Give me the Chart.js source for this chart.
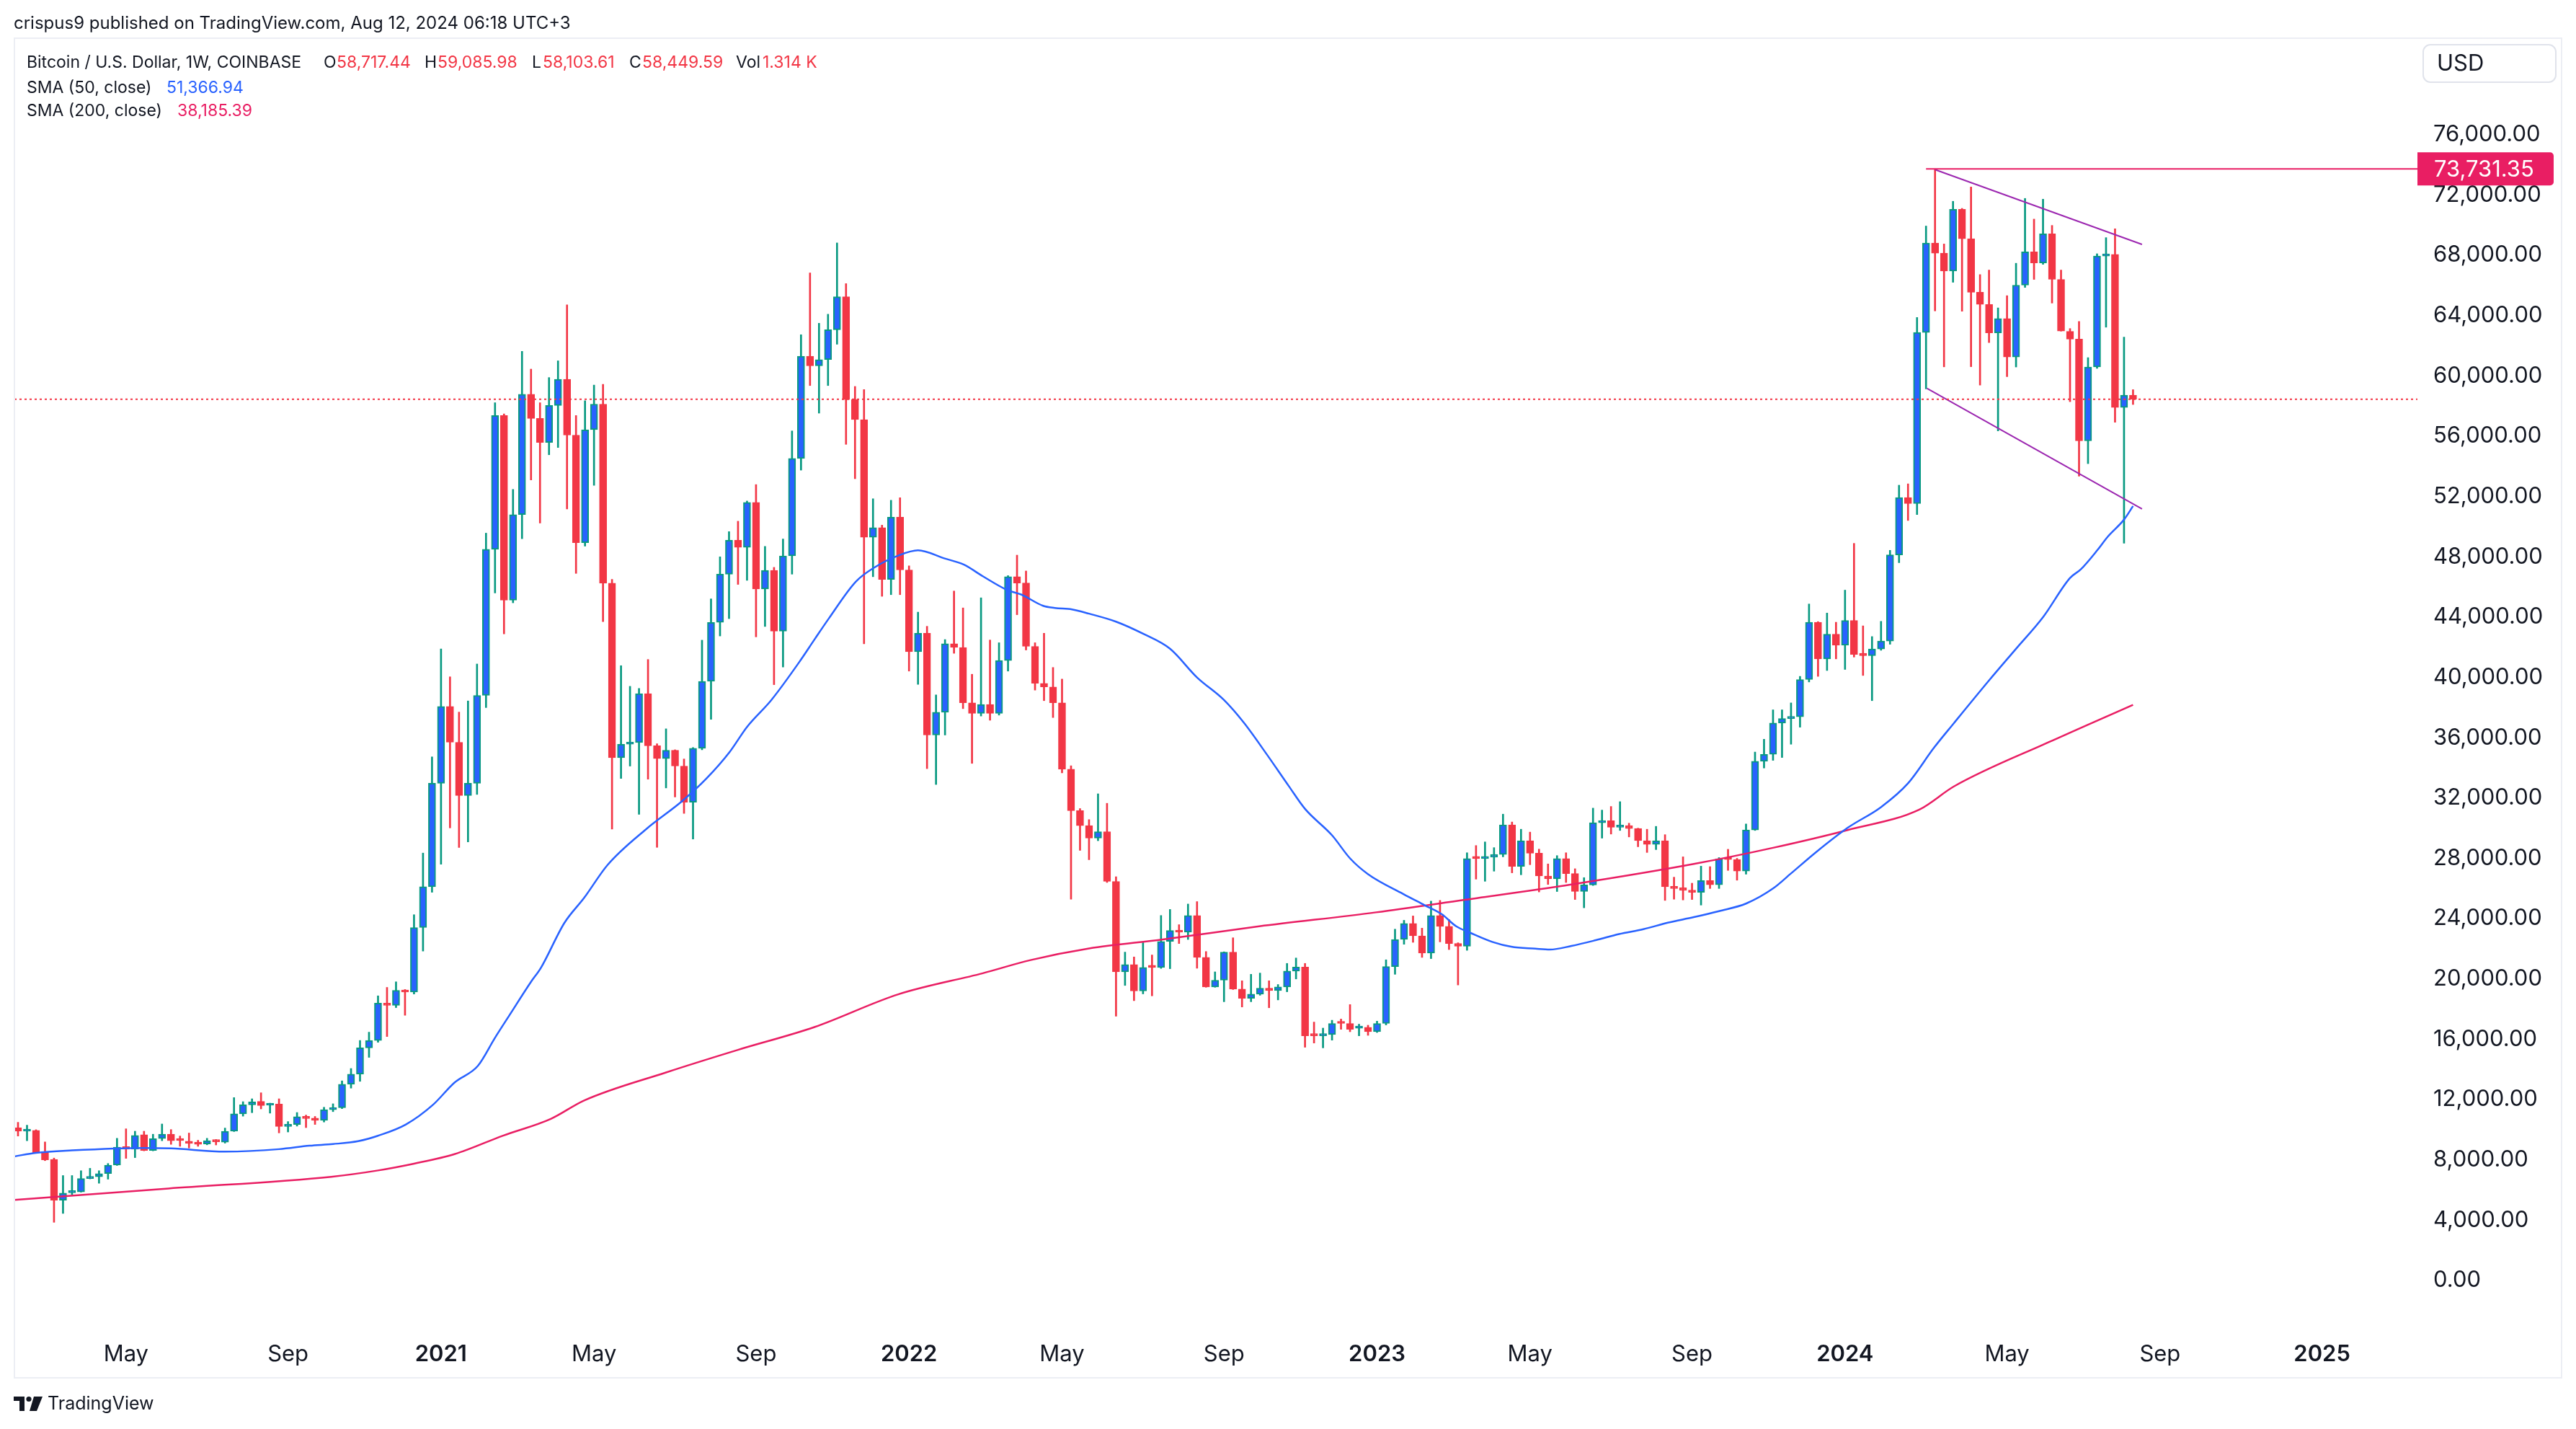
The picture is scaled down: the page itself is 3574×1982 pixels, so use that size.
<!DOCTYPE html>
<html>
<head>
<meta charset="utf-8">
<title>Bitcoin / U.S. Dollar, 1W</title>
<script src="https://cdn.jsdelivr.net/npm/chart.js@4.4.1/dist/chart.umd.min.js"></script>
<style>
  html, body { margin: 0; padding: 0; background: #ffffff; }
  #wrap { width: 3574px; height: 1982px; position: relative; }
</style>
</head>
<body>
<div id="wrap"><canvas id="btcChart"></canvas></div>
<script>
// weekly candles, index 0 = week of 10 Feb 2020, index 235 = week of 12 Aug 2024
const opens = [
  10140, 9900, 9960, 8520, 8030, 5330, 5820, 5880, 6760, 6880,
  7090, 7650, 8880, 8710, 9670, 8630, 9410, 9700, 9330, 9240,
  9080, 9050, 9320, 9180, 9900, 11050, 11650, 11880, 11620, 11700,
  10220, 10350, 10860, 10740, 10620, 11330, 11460, 13020, 13690, 15430,
  15920, 18400, 18250, 19250, 19130, 23410, 26120, 32980, 38070, 35700,
  32170, 32980, 38810, 48500, 57370, 45120, 50800, 58780, 57180, 55590,
  58040, 59780, 56070, 48940, 56430, 58130, 46250, 34670, 35570, 35680,
  38920, 35470, 34620, 35170, 34120, 31720, 35300, 39740, 43650, 46850,
  49100, 48630, 51610, 45870, 47100, 43070, 48060, 54520, 61300, 60670,
  61080, 63060, 65250, 58430, 57100, 49300, 49930, 46500, 50630, 47130,
  41710, 42930, 36180, 37690, 42230, 41990, 38320, 37620, 38210, 37620,
  41120, 46680, 46260, 42060, 39610, 39370, 38320, 33910, 31160, 30170,
  29340, 29770, 26470, 20470, 20950, 19200, 20820, 20760, 22490, 23210,
  23100, 24210, 21430, 19470, 19920, 21780, 19330, 18720, 18990, 19390,
  19230, 19470, 20520, 20790, 16290, 16230, 16310, 17130, 17050, 16730,
  16800, 16500, 17050, 20820, 22620, 23680, 22860, 21710, 24210, 23490,
  22350, 22170, 28020, 27980, 28070, 28260, 30220, 27470, 29170, 28340,
  26830, 26640, 27980, 26990, 25800, 26240, 30360, 30490, 30060, 30170,
  29980, 29170, 28930, 29170, 26120, 26050, 25880, 25750, 26530, 26250,
  27970, 27920, 27150, 29880, 34440, 34900, 36970, 37270, 37390, 39860,
  43660, 41230, 42870, 42140, 43780, 41600, 41440, 41890, 42410, 48130,
  51930, 51530, 62880, 68810, 68140, 66950, 71050, 69100, 65550, 64740,
  62850, 63800, 61250, 66020, 68230, 67490, 69420, 66400, 62950, 62440,
  55690, 60590, 67950, 68060, 57910, 58717.44
];
const highs = [
  10490, 10300, 10000, 9190, 8120, 6960, 6960, 7280, 7440, 7280,
  7760, 9430, 10060, 9900, 9900, 9700, 10380, 10010, 9580, 9780,
  9300, 9430, 9350, 10110, 12130, 11860, 12050, 12450, 11760, 12050,
  10540, 11140, 10970, 10880, 11490, 11720, 13240, 14060, 15920, 16470,
  18880, 19440, 19810, 19300, 24260, 28350, 34730, 41890, 40040, 37700,
  38440, 40890, 49570, 58220, 57480, 52470, 61630, 60450, 58220, 59890,
  61000, 64710, 57370, 58350, 59390, 59440, 46500, 40780, 39410, 39270,
  41190, 35600, 36590, 35200, 34590, 35350, 42470, 45210, 48000, 49670,
  50360, 51700, 52790, 48690, 47300, 49180, 56350, 62730, 66830, 63490,
  64090, 68820, 66120, 59300, 59090, 51850, 50100, 51750, 51920, 47400,
  44330, 43390, 38840, 42510, 45730, 44610, 40210, 45280, 42480, 42300,
  46750, 48110, 47060, 42300, 42930, 40660, 39890, 34140, 31300, 30570,
  32280, 31650, 26780, 21780, 21460, 22410, 21590, 24210, 24610, 23600,
  24970, 25130, 21820, 20470, 21800, 22730, 19880, 20310, 20390, 19880,
  19630, 21030, 21390, 21030, 17140, 16740, 17260, 17340, 18300, 17000,
  16930, 17200, 21270, 23300, 23890, 24180, 23370, 25160, 25210, 23940,
  22400, 28370, 28850, 29090, 28710, 30930, 30410, 29930, 29740, 28610,
  27630, 28180, 28370, 27310, 26720, 31330, 31200, 31440, 31760, 30330,
  30000, 29930, 30120, 29570, 26750, 28100, 26350, 27480, 27450, 28050,
  28600, 28000, 30280, 35050, 35900, 37850, 37850, 38310, 40070, 44870,
  43700, 44270, 43660, 45790, 48890, 43420, 42710, 43720, 48430, 52750,
  52840, 63880, 69940, 73731.35, 68750, 71580, 71110, 72530, 66720, 67020,
  64510, 65320, 67470, 71770, 70400, 71720, 69980, 67020, 63140, 63610,
  61210, 68100, 69170, 69760, 62570, 59085.98
];
const lows = [
  9580, 9270, 8440, 7950, 3860, 4450, 5690, 5860, 6740, 6450,
  6720, 7630, 8100, 8150, 8600, 8600, 9270, 9030, 8900, 8790,
  8900, 9000, 8990, 9110, 9880, 10900, 11130, 11380, 11100, 9790,
  9850, 10240, 10140, 10350, 10510, 11200, 11400, 12760, 13210, 14800,
  15800, 16180, 18100, 17590, 19000, 21850, 25750, 27610, 30020, 28720,
  29090, 32240, 38000, 45600, 42890, 44950, 49200, 53100, 50240, 54770,
  55250, 51170, 46900, 48710, 52740, 43700, 29940, 33300, 34120, 30920,
  33250, 28730, 32670, 32070, 30980, 29280, 35200, 37220, 42750, 43900,
  46170, 46440, 42690, 43380, 39520, 40690, 46850, 53750, 59360, 57530,
  59360, 62100, 55460, 53180, 42230, 46680, 45380, 45490, 45490, 40420,
  39540, 33950, 32900, 36180, 41600, 37930, 34300, 37440, 37160, 37500,
  40420, 44160, 41820, 39160, 38460, 37340, 33670, 25290, 28530, 27910,
  29170, 26400, 17530, 19570, 18560, 19010, 18880, 20700, 20680, 22350,
  22620, 20710, 19450, 19450, 18490, 19300, 18140, 18490, 18920, 18090,
  18610, 19150, 20000, 15470, 15750, 15430, 15940, 16660, 16500, 16230,
  16260, 16450, 16950, 20310, 22300, 22430, 21430, 21350, 22460, 21950,
  19600, 21900, 26620, 26480, 27150, 28100, 27040, 26910, 27580, 25770,
  26270, 25800, 26400, 25270, 24720, 26200, 29340, 29610, 29850, 29420,
  28770, 28390, 28580, 25210, 25290, 25240, 25270, 24900, 26000, 26000,
  27200, 26550, 26950, 29850, 33990, 34500, 34690, 35570, 36700, 39700,
  40070, 40460, 41230, 40530, 41350, 40130, 38460, 41800, 42200, 47610,
  50410, 50800, 59140, 64310, 60600, 66210, 64290, 60610, 59390, 62210,
  56350, 59950, 60590, 65870, 66400, 67400, 64830, 62970, 58290, 53350,
  54180, 60500, 63230, 56930, 48900, 58103.61
];
const closes = [
  9900, 9960, 8470, 8000, 5330, 5800, 5900, 6760, 6880, 7090,
  7650, 8840, 8710, 9620, 8630, 9410, 9700, 9270, 9280, 9090,
  9030, 9270, 9200, 9900, 11050, 11650, 11840, 11600, 11700, 10220,
  10350, 10860, 10740, 10620, 11330, 11460, 13020, 13690, 15430, 15920,
  18400, 18250, 19250, 19130, 23410, 26120, 32980, 38070, 35700, 32170,
  32980, 38810, 48500, 57370, 45120, 50800, 58780, 57180, 55590, 58040,
  59780, 56070, 48940, 56430, 58130, 46250, 34670, 35570, 35680, 38920,
  35470, 34620, 35170, 34120, 31720, 35300, 39740, 43650, 46850, 49100,
  48630, 51610, 45870, 47100, 43070, 48060, 54520, 61300, 60670, 61080,
  63060, 65250, 58430, 57100, 49300, 49930, 46500, 50630, 47130, 41710,
  42930, 36180, 37690, 42230, 41990, 38320, 37620, 38210, 37620, 41120,
  46680, 46260, 42060, 39610, 39370, 38320, 33910, 31160, 30170, 29340,
  29770, 26470, 20470, 20950, 19200, 20760, 20760, 22490, 23210, 23100,
  24210, 21430, 19470, 19920, 21780, 19330, 18720, 18990, 19390, 19230,
  19470, 20520, 20790, 16230, 16230, 16310, 17050, 17050, 16660, 16800,
  16500, 17050, 20820, 22620, 23680, 22860, 21710, 24210, 23490, 22350,
  22170, 27980, 27980, 28070, 28260, 30220, 27470, 29170, 28340, 26830,
  26640, 27980, 26990, 25800, 26240, 30360, 30490, 30060, 30170, 29980,
  29170, 28930, 29170, 26120, 26000, 25880, 25750, 26530, 26250, 27970,
  27920, 27150, 29880, 34440, 34900, 36970, 37270, 37390, 39860, 43660,
  41230, 42870, 42140, 43780, 41530, 41440, 41890, 42410, 48130, 51930,
  51530, 62880, 68810, 68140, 66950, 71050, 69100, 65550, 64740, 62850,
  63800, 61250, 66020, 68230, 67490, 69420, 66400, 62970, 62440, 55690,
  60590, 67950, 68060, 57910, 58717.44, 58449.59
];

// moving averages (week index, price)
const sma50Weeks = [-0.4, 2, 6, 14, 17, 23, 29, 32.4, 35, 37.8, 40, 43.1, 46.1, 48.5, 51.1, 53, 54.6, 57, 58.1, 60.7,
  62.9, 65.5, 69.8, 73.8, 76.5, 79.1, 81, 83.7, 86.9, 88.5, 90.1, 93.1, 95.2, 97.8, 100, 102.9, 105.1, 107.2, 109.9, 111.5,
  113.9, 115.2, 117.1, 119, 122, 125, 128, 131, 134, 136.2, 138.7, 141.2, 143, 146, 148, 150, 153.9, 156.3, 158.2, 159.8,
  161.4, 163.8, 165.9, 168.6, 170.2, 172.6, 175.3, 177.9, 180.6, 183.3, 186.2, 189, 192, 195, 197, 199.8, 203.3, 207, 210, 212.9,
  215.1, 219, 222, 225, 228, 229.2, 231.1, 232.2, 234, 235];
const sma50Values = [8230, 8470, 8630, 8790, 8760, 8550, 8710, 8940, 9050, 9240, 9600, 10350, 11650, 13130, 14240, 16100, 17590, 19810, 20740, 23710,
  25380, 27560, 29940, 31800, 33300, 35080, 36720, 38500, 41100, 42520, 43920, 46360, 47310, 48080, 48430, 47900, 47480, 46710, 45800, 45490,
  44750, 44610, 44510, 44230, 43700, 42900, 41900, 40000, 38500, 37000, 34940, 32790, 31280, 29530, 28000, 26950, 25640, 24890, 24290, 23490,
  23050, 22460, 22140, 22010, 21950, 22190, 22570, 22980, 23300, 23730, 24100, 24500, 25000, 26000, 27000, 28420, 30030, 31400, 32980, 35350,
  36970, 39800, 41900, 44000, 46600, 47170, 48490, 49340, 50470, 51366.94];
const sma200Weeks = [-0.4, 16.7, 34.8, 40, 44, 48.5, 53.9, 59.2, 62.9, 72, 80, 88.5, 97.8, 107.2, 112.5, 119, 127.2, 137.9,
  150.9, 160.6, 172.6, 186.2, 195, 203.3, 211.3, 215.1, 226, 235];
const sma200Values = [5340, 6100, 6880, 7300, 7750, 8380, 9610, 10720, 11940, 13800, 15300, 16810, 18980, 20380, 21250, 22020, 22620, 23490,
  24420, 25240, 26270, 27630, 28700, 29880, 31250, 32770, 35800, 38185.39];

// drawn trend lines (falling wedge) and levels
const wedgeTopWeeks = [213, 236];
const wedgeTopValues = [73680, 68720];
const wedgeBottomWeeks = [212.1, 236];
const wedgeBottomValues = [59170, 51180];
const athWeek = 212;
const athValue = 73731.35;
const lastClose = 58449.59;

// axis ticks
const tickWeeks = [12, 30, 47, 64, 82, 99, 116, 134, 151, 168, 186, 203, 221, 238, 256];
const tickLabels = ['May', 'Sep', '2021', 'May', 'Sep', '2022', 'May', 'Sep', '2023', 'May', 'Sep', '2024', 'May', 'Sep', '2025'];
const priceTicks = [0, 4000, 8000, 12000, 16000, 20000, 24000, 28000, 32000, 36000, 40000,
  44000, 48000, 52000, 56000, 60000, 64000, 68000, 72000, 76000];

const UP = '#089981';
const UP_BODY = '#2962ff';
const DOWN = '#f23645';
const PINK = '#e91e63';
const TEXT = '#131722';
const FONT = 'Inter, "Noto Sans", sans-serif';
const X_MIN = -0.4;
const X_MAX = 266.6;

const fmt2 = v => v.toLocaleString('en-US', { minimumFractionDigits: 2, maximumFractionDigits: 2 });
const toPoints = (xs, ys) => xs.map((x, i) => ({ x: x, y: ys[i] }));

const isUp = closes.map((c, i) => c >= opens[i]);
const wickData = highs.map((h, i) => ({ x: i, y: [lows[i], h] }));
const bodyData = opens.map((o, i) => ({ x: i, y: [o, closes[i]] }));

// texts, frame, boxes around the plot
const tvOverlay = {
  id: 'tvOverlay',
  afterDraw(chart) {
    const ctx = chart.ctx;
    const yScale = chart.scales.y;
    ctx.save();

    // pane frame
    ctx.strokeStyle = '#eceef4';
    ctx.lineWidth = 2;
    ctx.strokeRect(20, 53, 3534, 1858);

    ctx.textBaseline = 'middle';
    ctx.textAlign = 'left';

    // publisher line
    ctx.fillStyle = TEXT;
    ctx.font = '24px ' + FONT;
    ctx.fillText('crispus9 published on TradingView.com, Aug 12, 2024 06:18 UTC+3', 19, 33);

    // legend
    ctx.font = '23px ' + FONT;
    const row1 = [
      ['Bitcoin / U.S. Dollar, 1W, COINBASE', 37, TEXT],
      ['O', 449, TEXT], [fmt2(opens[opens.length - 1]), 467, DOWN],
      ['H', 589, TEXT], [fmt2(highs[highs.length - 1]), 607, DOWN],
      ['L', 738, TEXT], [fmt2(lows[lows.length - 1]), 753, DOWN],
      ['C', 873, TEXT], [fmt2(closes[closes.length - 1]), 891, DOWN],
      ['Vol', 1021, TEXT], ['1.314 K', 1058, DOWN]
    ];
    row1.forEach(([t, x, c]) => { ctx.fillStyle = c; ctx.fillText(t, x, 87); });
    ctx.fillStyle = TEXT;
    ctx.fillText('SMA (50, close)', 37, 122);
    ctx.fillText('SMA (200, close)', 37, 154);
    ctx.fillStyle = UP_BODY;
    ctx.fillText(fmt2(sma50Values[sma50Values.length - 1]), 231, 122);
    ctx.fillStyle = PINK;
    ctx.fillText(fmt2(sma200Values[sma200Values.length - 1]), 246, 154);

    // currency button
    ctx.strokeStyle = '#e0e3eb';
    ctx.lineWidth = 2;
    ctx.beginPath();
    ctx.roundRect(3362, 62, 184, 52, 10);
    ctx.stroke();
    ctx.fillStyle = TEXT;
    ctx.font = '31px ' + FONT;
    ctx.fillText('USD', 3381, 89);

    // all-time-high price tag
    const yAth = yScale.getPixelForValue(athValue);
    ctx.fillStyle = PINK;
    ctx.beginPath();
    ctx.roundRect(chart.chartArea.right, yAth - 23, 189, 46, [0, 5, 5, 0]);
    ctx.fill();
    ctx.fillStyle = '#ffffff';
    ctx.fillText(fmt2(athValue), 3377, yAth + 1);

    // TradingView mark
    ctx.fillStyle = TEXT;
    ctx.fillRect(19, 1937, 15, 6);
    ctx.fillRect(27, 1937, 7, 20);
    ctx.beginPath();
    ctx.arc(40, 1940.5, 3.6, 0, Math.PI * 2);
    ctx.fill();
    ctx.beginPath();
    ctx.moveTo(47, 1937);
    ctx.lineTo(59, 1937);
    ctx.lineTo(51, 1957);
    ctx.lineTo(41, 1957);
    ctx.closePath();
    ctx.fill();
    ctx.font = '25px ' + FONT;
    ctx.fillText('TradingView', 66, 1947);

    ctx.restore();
  }
};

function build() {
  new Chart(document.getElementById('btcChart'), {
    type: 'bar',
    data: {
      datasets: [
        {
          type: 'line', label: 'last', data: [{ x: X_MIN, y: lastClose }, { x: X_MAX, y: lastClose }],
          borderColor: DOWN, borderWidth: 2, borderDash: [3, 4], pointRadius: 0
        },
        {
          type: 'line', label: 'ath', data: [{ x: athWeek, y: athValue }, { x: X_MAX, y: athValue }],
          borderColor: PINK, borderWidth: 2, pointRadius: 0
        },
        {
          type: 'line', label: 'wedge top', data: toPoints(wedgeTopWeeks, wedgeTopValues),
          borderColor: '#9c27b0', borderWidth: 2, pointRadius: 0
        },
        {
          type: 'line', label: 'wedge bottom', data: toPoints(wedgeBottomWeeks, wedgeBottomValues),
          borderColor: '#9c27b0', borderWidth: 2, pointRadius: 0
        },
        {
          type: 'line', label: 'SMA 50', data: toPoints(sma50Weeks, sma50Values),
          borderColor: '#2962ff', borderWidth: 2.5, pointRadius: 0, cubicInterpolationMode: 'monotone'
        },
        {
          type: 'line', label: 'SMA 200', data: toPoints(sma200Weeks, sma200Values),
          borderColor: PINK, borderWidth: 2.5, pointRadius: 0, cubicInterpolationMode: 'monotone'
        },
        {
          label: 'body', data: bodyData, grouped: false, barThickness: 10, minBarLength: 3,
          backgroundColor: isUp.map(u => (u ? UP_BODY : DOWN)),
          borderColor: isUp.map(u => (u ? UP : DOWN)),
          borderWidth: 2, borderSkipped: false
        },
        {
          label: 'wick', data: wickData, grouped: false, barThickness: 2,
          backgroundColor: isUp.map(u => (u ? UP : DOWN))
        }
      ]
    },
    options: {
      responsive: true,
      maintainAspectRatio: false,
      animation: false,
      events: [],
      layout: { padding: { left: 20, right: 20, top: 54, bottom: 71 } },
      plugins: { legend: { display: false }, tooltip: { enabled: false } },
      scales: {
        x: {
          type: 'linear', min: X_MIN, max: X_MAX, offset: false,
          grid: { display: false, drawTicks: false, offset: false },
          border: { display: false },
          afterBuildTicks: s => { s.ticks = tickWeeks.map(v => ({ value: v })); },
          afterFit: s => { s.height = 71; },
          ticks: {
            autoSkip: false, maxRotation: 0, padding: 20, color: TEXT,
            font: c => ({ family: FONT, size: 31, weight: /^\d{4}$/.test(tickLabels[c.index] || '') ? '600' : '400' }),
            callback: (v, i) => tickLabels[i]
          }
        },
        y: {
          type: 'linear', position: 'right', min: -3060, max: 82350,
          grid: { display: false, drawTicks: false },
          border: { display: false },
          afterBuildTicks: s => { s.ticks = priceTicks.map(v => ({ value: v })); },
          afterFit: s => { s.width = 200; },
          ticks: { padding: 22, color: TEXT, font: { family: FONT, size: 31 }, callback: v => fmt2(v) }
        }
      }
    },
    plugins: [tvOverlay]
  });
}

Promise.all([
  document.fonts.load('31px Inter'),
  document.fonts.load('600 31px Inter')
]).then(build, build);
</script>
</body>
</html>
